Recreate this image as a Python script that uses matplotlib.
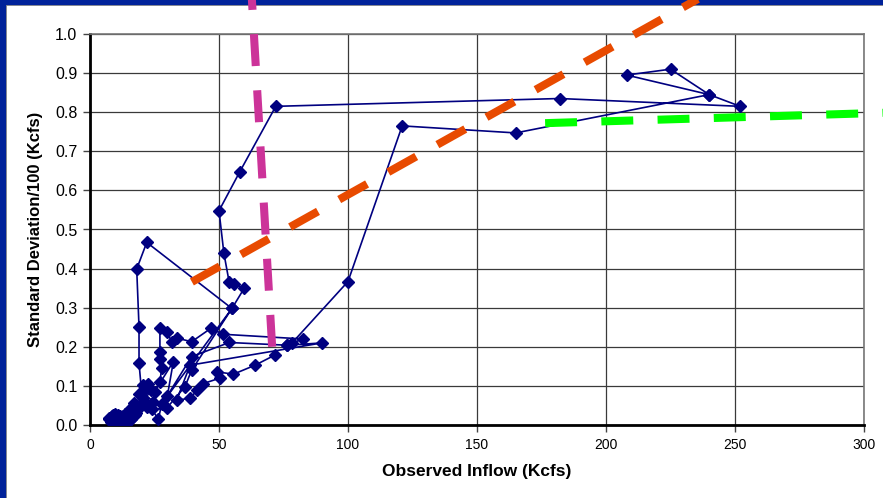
import matplotlib
matplotlib.use("Agg")
import matplotlib.pyplot as plt
from matplotlib.patches import Rectangle

plt.rcParams['font.family'] = ['Liberation Sans', 'DejaVu Sans']
plt.rcParams['lines.scale_dashes'] = False

# Observed inflow (Kcfs) and standard deviation/100 (Kcfs), in sequence
inflow = [7.5, 8.0, 7.2, 8.5, 9.5, 10.2, 11.0, 9.0, 10.5, 12.0, 11.5, 13.0, 12.2, 14.0, 13.5,
          8.3, 9.8, 11.2, 12.8, 10.0, 8.8, 13.8, 15.2, 11.8, 9.3,
          15.0, 14.5, 16.0, 16.5, 15.5, 17.5, 18.5, 17.0, 19.5, 20.5, 19.0, 21.3, 22.5, 20.7,
          23.5, 21.0, 18.0, 22.0, 24.5, 20.0,
          19.0, 19.0, 18.1, 22.0, 55.0, 27.8, 26.5, 24.0, 29.7, 36.8, 39.4, 55.0, 59.8, 55.8,
          53.9, 51.9, 50.0, 58.0, 72.0, 182.0, 252.0, 240.0, 225.0, 208.0, 240.0, 165.0,
          121.0, 100.0, 78.2, 76.2, 82.7, 51.7, 46.8, 39.4, 33.8, 31.7, 29.7, 27.1, 27.1,
          27.1, 27.8, 27.1, 25.0, 32.3, 30.0, 39.4, 54.0, 76.5, 90.0, 38.8, 33.6, 38.8, 41.6,
          43.9, 50.4, 49.1, 55.6, 64.0, 71.7]
std_dev = [0.015, 0.012, 0.018, 0.022, 0.010, 0.020, 0.026, 0.005, 0.015, 0.008, 0.024, 0.018,
           0.005, 0.012, 0.028,
           0.008, 0.028, 0.004, 0.022, 0.012, 0.026, 0.006, 0.010, 0.016, 0.020,
           0.020, 0.006, 0.015, 0.030, 0.040, 0.025, 0.040, 0.055,
           0.050, 0.070, 0.080, 0.098, 0.104, 0.102,
           0.090, 0.060, 0.030, 0.045, 0.060, 0.085,
           0.158, 0.251, 0.399, 0.467, 0.298,
           0.054, 0.015, 0.040, 0.043, 0.098, 0.140, 0.298, 0.350, 0.360, 0.367, 0.439,
           0.548, 0.647, 0.815, 0.835, 0.815, 0.845, 0.910, 0.895, 0.845, 0.747, 0.765,
           0.367, 0.209, 0.205, 0.220, 0.232, 0.247, 0.213, 0.222, 0.213, 0.239, 0.247,
           0.187, 0.170, 0.145, 0.111, 0.085, 0.162, 0.075, 0.175, 0.211, 0.204, 0.210,
           0.153, 0.064, 0.068, 0.090, 0.106, 0.120, 0.136, 0.130, 0.153, 0.179]

# Hand-drawn dashed guide lines (endpoints)
magenta_x = [70.6, 62.2]
magenta_y = [0.200, 1.150]
orange_x = [39.5, 252.0]
orange_y = [0.366, 1.150]
green_x = [176.4, 315.0]
green_y = [0.772, 0.800]

x_ticks = [0, 50, 100, 150, 200, 250, 300]
y_ticks = [0.0, 0.1, 0.2, 0.3, 0.4, 0.5, 0.6, 0.7, 0.8, 0.9, 1.0]

fig = plt.figure(figsize=(8.83, 4.98), dpi=100)
fig.patch.set_facecolor('#00229a')
fig.add_artist(Rectangle((6 / 883, 0), 1, 1 - 5 / 498, transform=fig.transFigure,
                         facecolor='white', edgecolor='#888888', linewidth=0.6, zorder=0))

ax = fig.add_axes([90 / 883, 73 / 498, 774 / 883, 391 / 498])
ax.set_facecolor('none')
ax.set_xlim(0, 300)
ax.set_ylim(0, 1.0)
ax.set_xticks(x_ticks)
ax.set_yticks(y_ticks)
ax.set_yticklabels([f"{v:.1f}" for v in y_ticks], fontsize=11.5)
ax.set_xticklabels([str(v) for v in x_ticks], fontsize=10)
ax.grid(True, color='#3a3a3a', linewidth=0.9)
ax.set_axisbelow(True)
for s in ['left', 'bottom']:
    ax.spines[s].set_color('black')
    ax.spines[s].set_linewidth(2.0)
for s in ['top', 'right']:
    ax.spines[s].set_color('#777777')
    ax.spines[s].set_linewidth(1.2)
ax.tick_params(axis='both', direction='out', length=5, width=1, color='#444444', pad=4)

ax.plot(inflow, std_dev, color='#000080', linewidth=1.2, marker='D', markersize=6.3,
        markerfacecolor='#000080', markeredgecolor='#000080', zorder=3)

dash = (0, (23, 17.5))
ax.plot(magenta_x, magenta_y, color='#cc3399', linewidth=5.8, linestyle=dash,
        solid_capstyle='butt', dash_capstyle='butt', clip_on=False, zorder=5)
ax.plot(orange_x, orange_y, color='#e84a00', linewidth=5.8, linestyle=dash,
        dash_capstyle='butt', clip_on=False, zorder=5)
ax.plot(green_x, green_y, color='#00ff00', linewidth=5.8, linestyle=dash,
        dash_capstyle='butt', clip_on=False, zorder=5)

ax.set_xlabel('Observed Inflow (Kcfs)', fontsize=12.5, fontweight='bold', labelpad=9)
ax.set_ylabel('Standard Deviation/100 (Kcfs)', fontsize=12, fontweight='bold', labelpad=9)

fig.savefig('out.png', dpi=100, facecolor=fig.get_facecolor())
